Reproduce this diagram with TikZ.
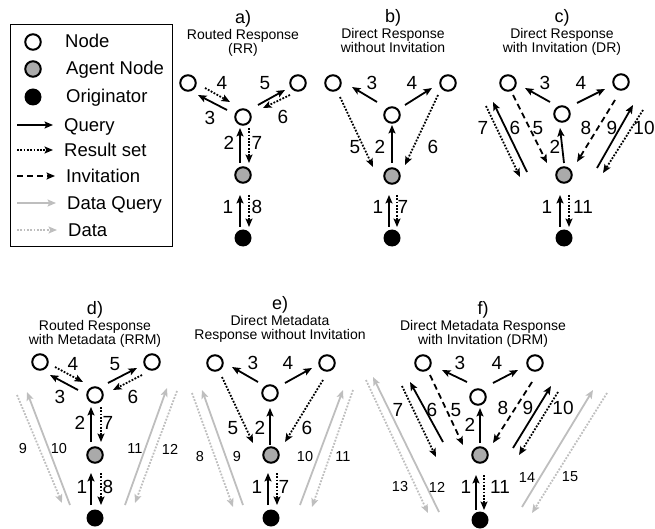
\documentclass[tikz,border=0pt]{standalone}
\usepackage{fontspec}
\setmainfont{Liberation Sans}
\usetikzlibrary{arrows.meta,positioning}

\definecolor{agentgray}{RGB}{170,170,170}
\definecolor{datagray}{RGB}{190,190,190}

\tikzset{
  peer/.style={circle,draw,line width=2pt,minimum size=15.5pt,inner sep=0pt,fill=white},
  agentnode/.style={peer,fill=agentgray},
  orignode/.style={circle,fill=black,minimum size=17pt,inner sep=0pt},
  query/.style={line width=1.8pt,-{Stealth[length=8.5pt,width=7pt,inset=1.8pt]}},
  result/.style={query,dash pattern=on 1.8pt off 1.5pt},
  invite/.style={query,dash pattern=on 6pt off 4pt},
  dquery/.style={query,datagray},
  dres/.style={result,datagray},
  num/.style={font=\fontsize{19}{19}\selectfont,inner sep=0pt},
  snum/.style={font=\fontsize{14.5}{14.5}\selectfont,inner sep=0pt},
  ttl/.style={font=\fontsize{18}{18}\selectfont,inner sep=0pt},
  sub/.style={font=\fontsize{14}{14}\selectfont,align=center,inner sep=0pt},
  lgtxt/.style={font=\fontsize{18.5}{18.5}\selectfont,anchor=base west,inner sep=0pt}
}

\begin{document}
\begin{tikzpicture}[x=1pt,y=-1pt]
\useasboundingbox (0,0) rectangle (655,529);

% legend
\draw[line width=1pt] (10,25) rectangle (172,246);
\node[peer] (lg-peer) at (33,42) {};
\node[agentnode] (lg-agent) at (33,69) {};
\node[orignode] (lg-orig) at (33,97) {};
\node[lgtxt] (lg-peer-t) at (65,47.5) {Node};
\node[lgtxt] (lg-agent-t) at (66,74.5) {Agent Node};
\node[lgtxt] (lg-orig-t) at (66,102.5) {Originator};
\foreach \y/\st/\txt/\x in {125/query/Query/64, 150/result/Result set/64,
    176/invite/Invitation/66, 203/dquery/Data Query/67, 230/dres/Data/68} {
  \node[lgtxt] (lg-\st) at (\x,\y+6.5) {\txt};
  \draw[\st] ([shift={(17-\x,-6.5)}]lg-\st.base west) -- ([shift={(-11,-6.5)}]lg-\st.base west);
}

% a) routed response
\node[ttl] (a-t) at (243,19) {a)};
\node[sub,below=2pt of a-t] (a-s) {Routed Response\\(RR)};
\node[peer] (a-tl) at (188,83) {};
\node[peer] (a-tr) at (298,83) {};
\node[peer] (a-mid) at (243,117) {};
\node[agentnode] (a-ag) at (243,175) {};
\node[orignode] (a-og) at (243,238) {};
\draw[query] ([shift={(-3,-11)}]a-og.center) -- ([shift={(-3,20)}]a-ag.center);
\draw[query] ([shift={(-3,-12)}]a-ag.center) -- ([shift={(-3,11)}]a-mid.center);
\draw[query] ([shift={(-16,-7)}]a-mid.center) -- ([shift={(10,12)}]a-tl.center);
\draw[result] ([shift={(17,5)}]a-tl.center) -- ([shift={(-13,-15)}]a-mid.center);
\draw[query] ([shift={(15,-12)}]a-mid.center) -- ([shift={(-13,7)}]a-tr.center);
\draw[result] ([shift={(-8,12)}]a-tr.center) -- ([shift={(20,-9)}]a-mid.center);
\draw[result] ([shift={(6,11)}]a-mid.center) -- ([shift={(6,-12)}]a-ag.center);
\draw[result] ([shift={(6,20)}]a-ag.center) -- ([shift={(6,-11)}]a-og.center);
\foreach \t/\x/\y in {1/228/207, 2/229/143, 3/210/118, 4/222/83, 5/265/83,
    6/283/117, 7/257/143, 8/257/207}
  \node[num] (a-n\t) at (\x,\y) {\t};

% b) direct response without invitation
\node[ttl] (b-t) at (393,18) {b)};
\node[sub,below=2pt of b-t] (b-s) {Direct Response\\without Invitation};
\node[peer] (b-tl) at (333,83) {};
\node[peer] (b-tr) at (448,83) {};
\node[peer] (b-mid) at (392,115) {};
\node[agentnode] (b-ag) at (392,176) {};
\node[orignode] (b-og) at (392,238) {};
\draw[query] ([shift={(-3,-11)}]b-og.center) -- ([shift={(-3,19)}]b-ag.center);
\draw[query] ([shift={(0,-13)}]b-ag.center) -- ([shift={(0,10)}]b-mid.center);
\draw[query] ([shift={(-15,-13)}]b-mid.center) -- ([shift={(19,4)}]b-tl.center);
\draw[query] ([shift={(13,-10)}]b-mid.center) -- ([shift={(-16,5)}]b-tr.center);
\draw[result] ([shift={(7,14)}]b-tl.center) -- ([shift={(-19,-9)}]b-ag.center);
\draw[result] ([shift={(-10,12)}]b-tr.center) -- ([shift={(13,-11)}]b-ag.center);
\draw[result] ([shift={(5,19)}]b-ag.center) -- ([shift={(5,-11)}]b-og.center);
\foreach \t/\x/\y in {1/378/207, 2/380/147, 3/372/83, 4/412/83, 5/355/147,
    6/433/147, 7/403/207}
  \node[num] (b-n\t) at (\x,\y) {\t};

% c) direct response with invitation
\node[ttl] (c-t) at (562,18) {c)};
\node[sub,below=2pt of c-t] (c-s) {Direct Response\\with Invitation (DR)};
\node[peer] (c-tl) at (508,83) {};
\node[peer] (c-tr) at (621,82) {};
\node[peer] (c-mid) at (562,114) {};
\node[agentnode] (c-ag) at (564,175) {};
\node[orignode] (c-og) at (564,238) {};
\draw[query] ([shift={(-4,-11)}]c-og.center) -- ([shift={(-4,20)}]c-ag.center);
\draw[query] ([shift={(0,-12)}]c-ag.center) -- ([shift={(-2,14)}]c-mid.center);
\draw[query] ([shift={(-12,-12)}]c-mid.center) -- ([shift={(17,5)}]c-tl.center);
\draw[query] ([shift={(15,-11)}]c-mid.center) -- ([shift={(-16,7)}]c-tr.center);
\draw[invite] ([shift={(5,12)}]c-tl.center) -- ([shift={(-17,-12)}]c-ag.center);
\draw[query] ([shift={(-37,-3)}]c-ag.center) -- ([shift={(-15,19)}]c-tl.center);
\draw[result] ([shift={(-22,23)}]c-tl.center) -- ([shift={(-44,2)}]c-ag.center);
\draw[invite] ([shift={(-6,18)}]c-tr.center) -- ([shift={(13,-13)}]c-ag.center);
\draw[query] ([shift={(33,-7)}]c-ag.center) -- ([shift={(12,23)}]c-tr.center);
\draw[result] ([shift={(22,28)}]c-tr.center) -- ([shift={(39,-2)}]c-ag.center);
\draw[result] ([shift={(5,20)}]c-ag.center) -- ([shift={(5,-11)}]c-og.center);
\foreach \t/\x/\y in {1/547/207, 2/555/147, 3/545/83, 4/581/83, 5/538/128,
    6/515/128, 7/483/128, 8/586/128, 9/612/128, 10/644/128, 11/583/207}
  \node[num] (c-n\t) at (\x,\y) {\t};

% d) routed response with metadata
\node[ttl] (d-t) at (95,310) {d)};
\node[sub,below=2pt of d-t] (d-s) {Routed Response\\with Metadata (RRM)};
\node[peer] (d-tl) at (40,362) {};
\node[peer] (d-tr) at (152,362) {};
\node[peer] (d-mid) at (95,395) {};
\node[agentnode] (d-ag) at (95,455) {};
\node[orignode] (d-og) at (95,518) {};
\draw[dres] ([shift={(-23,33)}]d-tl.center) -- ([shift={(-33,-15)}]d-og.center);
\draw[dquery] ([shift={(-25,-13)}]d-og.center) -- ([shift={(-13,30)}]d-tl.center);
\draw[dquery] ([shift={(30,-13)}]d-og.center) -- ([shift={(15,26)}]d-tr.center);
\draw[dres] ([shift={(25,29)}]d-tr.center) -- ([shift={(40,-15)}]d-og.center);
\draw[query] ([shift={(-4,-13)}]d-og.center) -- ([shift={(-4,18)}]d-ag.center);
\draw[query] ([shift={(-4,-13)}]d-ag.center) -- ([shift={(-4,12)}]d-mid.center);
\draw[query] ([shift={(-17,-5)}]d-mid.center) -- ([shift={(10,13)}]d-tl.center);
\draw[result] ([shift={(15,5)}]d-tl.center) -- ([shift={(-12,-13)}]d-mid.center);
\draw[query] ([shift={(13,-12)}]d-mid.center) -- ([shift={(-15,6)}]d-tr.center);
\draw[result] ([shift={(-10,13)}]d-tr.center) -- ([shift={(18,-5)}]d-mid.center);
\draw[result] ([shift={(6,12)}]d-mid.center) -- ([shift={(6,-13)}]d-ag.center);
\draw[result] ([shift={(6,18)}]d-ag.center) -- ([shift={(6,-13)}]d-og.center);
\foreach \t/\x/\y in {1/82/487, 2/80/423, 3/60/397, 4/73/364, 5/115/364,
    6/133/397, 7/108/423, 8/108/487}
  \node[num] (d-n\t) at (\x,\y) {\t};
\foreach \t/\x/\y in {9/23/449, 10/59/449, 11/135/449, 12/170/449}
  \node[snum] (d-n\t) at (\x,\y) {\t};

% e) direct metadata response without invitation
\node[ttl] (e-t) at (280,305) {e)};
\node[sub,below=2pt of e-t] (e-s) {Direct Metadata\\Response without Invitation};
\node[peer] (e-tl) at (215,363) {};
\node[peer] (e-tr) at (327,363) {};
\node[peer] (e-mid) at (270,393) {};
\node[agentnode] (e-ag) at (271,455) {};
\node[orignode] (e-og) at (271,518) {};
\draw[dres] ([shift={(-23,30)}]e-tl.center) -- ([shift={(-38,-11)}]e-og.center);
\draw[dquery] ([shift={(-28,-13)}]e-og.center) -- ([shift={(-13,27)}]e-tl.center);
\draw[dquery] ([shift={(29,-13)}]e-og.center) -- ([shift={(16,27)}]e-tr.center);
\draw[dres] ([shift={(26,27)}]e-tr.center) -- ([shift={(41,-11)}]e-og.center);
\draw[query] ([shift={(-3,-13)}]e-og.center) -- ([shift={(-3,18)}]e-ag.center);
\draw[query] ([shift={(-1,-10)}]e-ag.center) -- ([shift={(0,15)}]e-mid.center);
\draw[query] ([shift={(-12,-11)}]e-mid.center) -- ([shift={(17,4)}]e-tl.center);
\draw[query] ([shift={(15,-10)}]e-mid.center) -- ([shift={(-15,5)}]e-tr.center);
\draw[result] ([shift={(7,14)}]e-tl.center) -- ([shift={(-18,-12)}]e-ag.center);
\draw[result] ([shift={(-4,17)}]e-tr.center) -- ([shift={(14,-13)}]e-ag.center);
\draw[result] ([shift={(6,18)}]e-ag.center) -- ([shift={(6,-13)}]e-og.center);
\foreach \t/\x/\y in {1/257/487, 2/260/428, 3/253/363, 4/288/363, 5/233/428,
    6/307/428, 7/284/487}
  \node[num] (e-n\t) at (\x,\y) {\t};
\foreach \t/\x/\y in {8/200/457, 9/237/457, 10/305/457, 11/343/457}
  \node[snum] (e-n\t) at (\x,\y) {\t};

% f) direct metadata response with invitation
\node[ttl] (f-t) at (483,310) {f)};
\node[sub,below=2pt of f-t] (f-s) {Direct Metadata Response\\with Invitation (DRM)};
\node[peer] (f-tl) at (423,363) {};
\node[peer] (f-tr) at (535,363) {};
\node[peer] (f-mid) at (478,397) {};
\node[agentnode] (f-ag) at (480,455) {};
\node[orignode] (f-og) at (480,520) {};
\draw[dquery] ([shift={(-41,-8)}]f-og.center) -- ([shift={(-50,14)}]f-tl.center);
\draw[dres] ([shift={(-57,17)}]f-tl.center) -- ([shift={(-52,-7)}]f-og.center);
\draw[dquery] ([shift={(42,-13)}]f-og.center) -- ([shift={(58,27)}]f-tr.center);
\draw[dres] ([shift={(72,30)}]f-tr.center) -- ([shift={(52,-7)}]f-og.center);
\draw[query] ([shift={(-4,-10)}]f-og.center) -- ([shift={(-4,20)}]f-ag.center);
\draw[query] ([shift={(0,-12)}]f-ag.center) -- ([shift={(2,11)}]f-mid.center);
\draw[query] ([shift={(-11,-15)}]f-mid.center) -- ([shift={(19,7)}]f-tl.center);
\draw[query] ([shift={(15,-14)}]f-mid.center) -- ([shift={(-17,7)}]f-tr.center);
\draw[invite] ([shift={(7,12)}]f-tl.center) -- ([shift={(-17,-10)}]f-ag.center);
\draw[query] ([shift={(-37,-13)}]f-ag.center) -- ([shift={(-13,19)}]f-tl.center);
\draw[result] ([shift={(-21,23)}]f-tl.center) -- ([shift={(-44,2)}]f-ag.center);
\draw[invite] ([shift={(-3,19)}]f-tr.center) -- ([shift={(13,-12)}]f-ag.center);
\draw[query] ([shift={(33,-7)}]f-ag.center) -- ([shift={(16,23)}]f-tr.center);
\draw[result] ([shift={(23,29)}]f-tr.center) -- ([shift={(39,0)}]f-ag.center);
\draw[result] ([shift={(4,20)}]f-ag.center) -- ([shift={(4,-10)}]f-og.center);
\foreach \t/\x/\y in {1/466/487, 2/470/425, 3/460/363, 4/497/363, 5/456/410,
    6/432/410, 7/398/410, 8/503/408, 9/528/408, 10/563/408, 11/500/487}
  \node[num] (f-n\t) at (\x,\y) {\t};
\foreach \t/\x/\y in {12/437/487, 13/400/487, 14/527/478, 15/570/477}
  \node[snum] (f-n\t) at (\x,\y) {\t};
\end{tikzpicture}
\end{document}
